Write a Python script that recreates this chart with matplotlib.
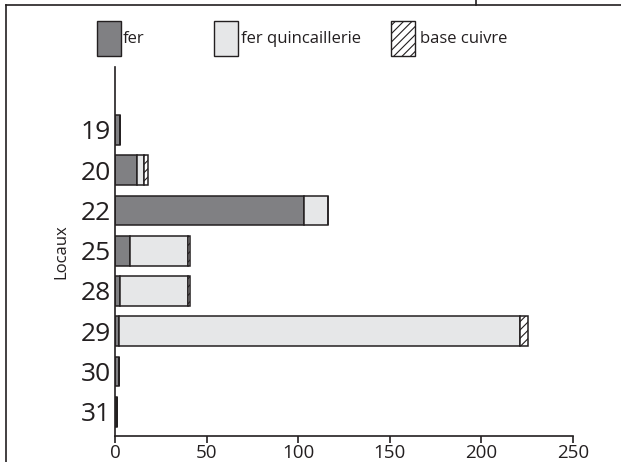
import matplotlib
matplotlib.use("Agg")
import matplotlib.pyplot as plt
from matplotlib.patches import Rectangle
from matplotlib.lines import Line2D

categories = ["19", "20", "22", "25", "28", "29", "30", "31"]
fer = [3, 12, 103, 8, 3, 2, 2, 1]
fer_quincaillerie = [0, 4, 13, 32, 37, 219, 0, 0]
base_cuivre = [0, 2, 0, 1, 1, 4.5, 0, 0]
series_names = ["fer", "fer quincaillerie", "base cuivre"]
x_ticks = [0, 50, 100, 150, 200, 250]

plt.rcParams['font.family'] = ['Open Sans', 'DejaVu Sans']
plt.rcParams['hatch.linewidth'] = 0.8
plt.rcParams['hatch.color'] = '#231f20'

W, H = 621, 462
fig = plt.figure(figsize=(W / 100, H / 100), dpi=100)
ax = fig.add_axes([115 / W, (H - 436) / H, (573 - 115) / W, (436 - 67) / H])

edge = '#231f20'
c_fer = '#808083'
c_fq = '#e6e7e8'
pos = list(range(len(categories)))
h = 0.74
lw = 1.1
ax.barh(pos, fer, height=h, color=c_fer, edgecolor=edge, linewidth=lw)
left2 = fer
ax.barh(pos, fer_quincaillerie, left=left2, height=h, color=c_fq, edgecolor=edge, linewidth=lw)
left3 = [a + b for a, b in zip(fer, fer_quincaillerie)]
ax.barh(pos, base_cuivre, left=left3, height=h, color='white', edgecolor=edge, linewidth=lw, hatch='////')

ax.set_ylim(7.6, -1.56)
ax.set_xlim(0, 250)
ax.set_yticks(pos)
ax.set_yticklabels(categories, fontsize=19, color='#231f20')
ax.set_xticks(x_ticks)
ax.set_xticklabels([str(t) for t in x_ticks], fontsize=13.5, color='#231f20')
ax.tick_params(axis='y', length=0, pad=3)
ax.tick_params(axis='x', length=5, width=1.2, direction='out', color=edge, pad=1)
for s in ['top', 'right']:
    ax.spines[s].set_visible(False)
for s in ['left', 'bottom']:
    ax.spines[s].set_linewidth(1.2)
    ax.spines[s].set_color(edge)
ax.set_ylabel("Locaux", fontsize=12, color='#231f20')
ax.yaxis.set_label_coords(-0.1, 0.5)

# legend drawn manually in figure pixel coords
def fx(x):
    return x / W

def fy(y):
    return (H - y) / H

leg_items = [(97, c_fer, None, 123), (214, c_fq, None, 241), (391, 'white', '////', 420)]
for (x0, col, hat, tx), name in zip(leg_items, series_names):
    r = Rectangle((fx(x0), fy(56)), 24 / W, 35 / H, transform=fig.transFigure,
                  facecolor=col, edgecolor=edge, linewidth=1.0, hatch=hat)
    fig.add_artist(r)
    fig.text(fx(tx), fy(39), name, fontsize=12, va='center', ha='left', color='#231f20')

# page border lines
fig.add_artist(Line2D([fx(6), fx(6)], [fy(5), fy(462)], transform=fig.transFigure, color=edge, lw=1.2))
fig.add_artist(Line2D([fx(6), fx(621)], [fy(5), fy(5)], transform=fig.transFigure, color=edge, lw=1.2))
fig.add_artist(Line2D([fx(476), fx(476)], [fy(0), fy(5)], transform=fig.transFigure, color=edge, lw=1.2))

fig.savefig("out.png", dpi=100)
